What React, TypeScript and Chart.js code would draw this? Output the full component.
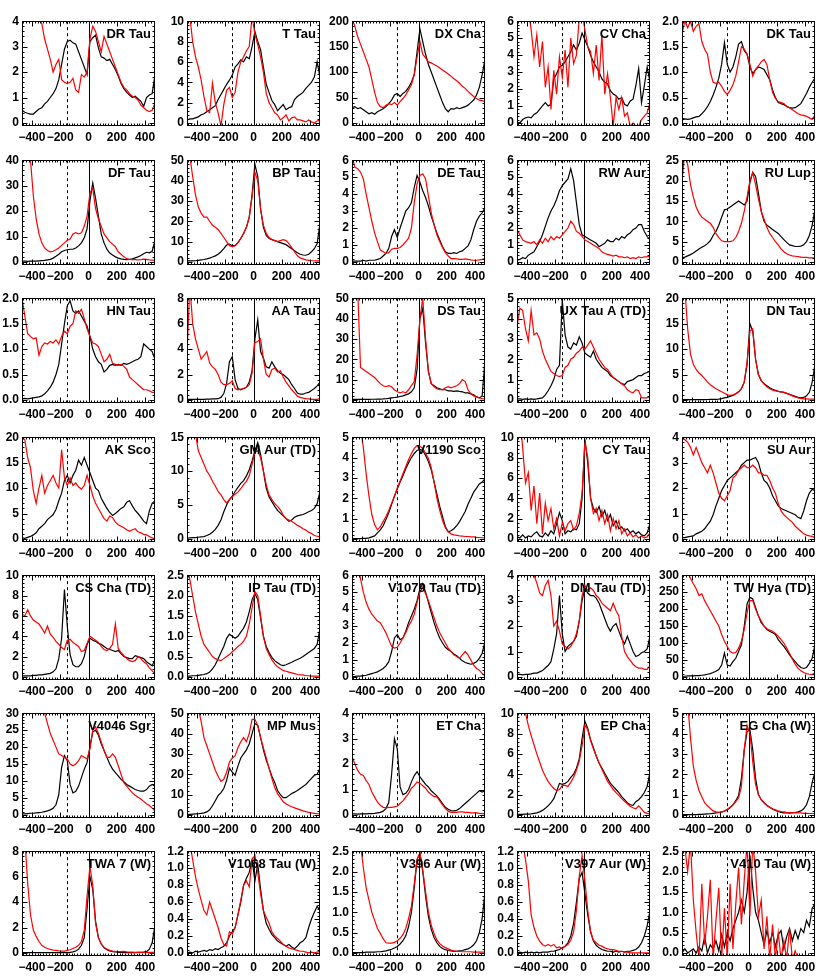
import React, { useEffect, useRef } from 'react';
import { Chart, registerables } from 'chart.js';

Chart.register(...registerables);

// ---------- shared axis data ----------
const velocity = [
  -470, -450, -430, -410, -390, -370, -350, -330,
  -310, -290, -270, -250, -230, -210, -190, -170,
  -150, -130, -110, -90, -70, -50, -30, -10,
  10, 30, 50, 70, 90, 110, 130, 150,
  170, 190, 210, 230, 250, 270, 290, 310,
  330, 350, 370, 390, 410, 430, 450, 470,
];
const xTickValues = [-400, -200, 0, 200, 400];
const xTickLabels = ['\u2212400', '\u2212200', '0', '200', '400'];
const xMin = -470;
const xMax = 470;
const dashedVelocity = -155;

// ---------- series values (black / red) ----------
const drTauBlack = [0.5,0.42,0.38,0.35,0.35,0.45,0.55,0.6, 0.75,0.85,1.0,1.15,1.35,1.7,2.3,2.9, 3.2,3.25,3.15,3.1,2.8,2.5,2.2,1.9, 3.2,3.35,3.45,2.95,2.6,2.55,2.45,2.5, 2.3,2.1,1.85,1.55,1.35,1.2,1.1,1.0, 1.05,0.95,0.85,0.65,1.0,1.1,1.15,1.9];
const drTauRed = [4.1,4.1,4.0,4.1,4.0,4.0,4.1,3.9, 3.3,2.9,2.5,2.0,2.3,2.5,1.7,1.6, 1.55,1.6,1.75,1.3,1.2,1.9,1.8,2.0, 3.3,3.8,3.6,3.2,2.8,3.4,3.1,2.8, 2.5,2.2,1.9,1.6,1.4,1.3,1.15,1.05, 1.0,0.9,0.7,0.6,0.5,0.45,0.5,0.8];
const tTauBlack = [0.3,0.4,0.4,0.5,0.6,0.8,0.9,1.1, 1.3,1.5,1.7,2.3,2.8,3.3,3.8,4.2, 4.7,5.5,5.8,6.2,6.0,6.5,6.3,7.5, 9.0,8.0,7.2,5.5,3.8,3.0,2.2,1.8, 1.2,1.5,1.8,1.3,1.5,1.6,2.3,2.6, 2.8,3.0,3.4,3.7,4.0,4.5,6.0,4.5];
const tTauRed = [11,10.5,8,6.5,5.5,4.2,2.6,1.2, 1.0,3.9,2.0,1.0,-0.3,1.8,3.2,3.5, 2.5,3.0,5.0,6.0,6.5,7.1,7.5,10.5, 8.7,7.7,6.5,5.0,2.9,2.0,1.5,1.0, 0.8,0.3,0.5,0.8,0.2,0.5,0.6,0.3, 0.3,0.2,0.1,0.3,0.1,0.0,0.2,0.3];
const dxChaBlack = [30,32,28,30,26,22,18,20, 17,22,25,28,32,38,45,55, 58,52,58,62,70,80,95,140, 185,160,135,115,100,85,70,55, 40,28,22,28,27,30,28,30, 32,35,40,45,55,70,95,125];
const dxChaRed = [205,190,170,155,140,125,110,85, 60,40,32,30,35,38,36,40, 35,42,48,55,65,75,95,130, 160,135,128,120,118,115,112,108, 104,100,96,92,87,83,78,72, 68,62,57,52,48,45,44,42];
const cvChaBlack = [0.05,0.0,0.2,0.3,0.35,0.3,0.5,0.6, 0.8,1.0,1.2,1.0,1.1,2.6,2.9,3.3, 3.4,3.6,3.9,4.2,4.6,4.3,4.7,5.3, 4.9,4.5,4.0,3.6,3.3,3.0,2.6,2.4, 2.3,1.9,1.7,1.6,1.4,1.5,1.1,1.0, 1.3,1.4,2.2,3.2,1.2,2.2,3.3,2.4];
const cvChaRed = [7,7,7,7,6.8,5.5,3.9,5.2, 3.3,4.8,2.1,3.3,0.8,3.1,1.7,3.9, 2.7,4.3,2.1,5.0,3.5,4.0,6.2,6.5, 5.5,4.5,4.2,2.9,4.6,2.5,5.2,1.7, 2.9,1.5,-0.2,1.5,0.8,1.5,0.4,0.6, -0.2,0.0,-0.2,-0.2,0.2,0.4,0.6,1.2];
const dkTauBlack = [0.06,0.08,0.07,0.08,0.1,0.12,0.13,0.18, 0.24,0.32,0.42,0.55,0.7,0.88,1.15,1.58, 1.15,1.0,1.1,1.3,1.55,1.6,1.42,1.35, 1.1,0.97,1.05,1.1,1.08,1.05,0.95,0.85, 0.65,0.5,0.4,0.38,0.36,0.33,0.3,0.29, 0.3,0.34,0.38,0.48,0.58,0.7,0.8,0.88];
const dkTauRed = [1.75,2.0,1.87,2.0,1.8,1.9,1.95,1.6, 1.45,1.35,1.0,0.8,0.78,0.8,0.72,0.62, 0.56,0.64,0.75,0.92,1.2,1.5,1.45,1.35, 1.15,0.92,1.05,1.12,1.2,1.25,1.15,0.85, 0.6,0.48,0.42,0.4,0.38,0.32,0.3,0.26, 0.22,0.18,0.16,0.15,0.13,0.1,0.07,0.16];

const dfTauBlack = [0.3,0.3,0.2,0.3,0.3,0.3,0.4,0.5, 0.6,0.8,1.0,1.5,2.2,3.0,4.0,4.5, 4.8,5.0,5.0,5.5,6.3,7.5,9.5,13, 24,31,25,18,11,7.5,5,3.5, 2.7,2,1.5,1.2,1.0,0.9,1.0,1.2, 1.6,2.0,2.5,3.2,3.8,3.6,4.2,8.5];
const dfTauRed = [60,55,48,40,26,17,11,7.5, 5.5,4.5,4,4.2,4.8,5.5,6.5,7.5, 8.5,9,11,11.5,11,11.5,14,18, 27,29,21,17,14,11,9.5,8, 7,6,4,3,2,1.3,1,0.9, 0.9,0.8,0.9,1.1,1.0,0.8,0.7,0.6];
const bpTauBlack = [0.5,0.5,0.5,0.6,0.8,1.0,1.2,1.5, 1.9,2.4,3.0,3.8,5.0,6.5,8.3,8.8, 8.0,8.0,9.5,11.5,14,17,22,33, 48,42,26,17,13,11.5,11,10.5, 10,9.5,9,8.5,7.5,6.5,5.5,4.5, 3.8,3.4,3.3,3.8,5.0,6.5,9,19];
const bpTauRed = [60,52,42,33,27,24,22,22, 20,18,17,16,14,12,10,8, 7.5,8,9.5,11.5,14,17,22,32, 44,40,26,18,14,12,11,10.5, 10,10.5,11,10.5,9,7,5,3, 2,1.5,1,0.8,0.6,0.6,0.5,0.5];
const deTauBlack = [0.05,0.05,0.05,0.05,0.1,0.05,0.1,0.1, 0.1,0.15,0.2,0.35,0.5,0.8,1.5,1.9, 1.45,2.0,2.5,3.0,3.2,3.5,4.4,5.1, 4.7,4.2,3.8,3.3,2.7,2.2,1.7,1.3, 0.9,0.6,0.5,0.5,0.55,0.5,0.6,0.65, 0.8,0.95,1.3,1.9,2.4,2.7,2.9,3.2];
const deTauRed = [6.2,5.6,5.5,5.3,4.9,4.0,3.2,2.4, 1.7,1.2,0.7,0.6,0.5,0.55,0.75,0.8, 0.8,0.85,1.0,1.2,1.4,2.0,3.5,4.6, 5.1,5.2,4.9,3.9,2.9,2.2,1.6,1.2, 0.85,0.55,0.35,0.2,0.2,0.18,0.15,0.15, 0.18,0.15,0.12,0.1,0.1,0.12,0.15,0.2];
const rwAurBlack = [0.1,0.15,0.25,0.2,0.4,0.5,0.6,0.9, 1.2,1.6,2.1,2.6,3.0,3.3,3.7,4.2, 4.5,4.7,4.9,5.5,4.8,3.5,2.2,1.6, 1.5,1.4,1.3,1.2,1.1,0.9,1.0,1.1, 1.3,1.2,1.2,1.4,1.3,1.5,1.4,1.6, 1.7,1.9,2.0,2.2,2.2,1.8,1.5,1.3];
const rwAurRed = [1.9,1.6,1.3,1.2,1.15,1.1,1.2,1.0, 1.3,1.1,1.4,1.2,1.5,1.3,1.5,1.4, 1.6,1.8,2.0,2.4,2.2,1.8,1.7,1.5, 1.3,1.2,1.1,1.0,0.9,0.8,0.6,0.5, 0.45,0.4,0.35,0.4,0.3,0.3,0.25,0.3, 0.2,0.25,0.2,0.3,0.25,0.3,0.3,0.35];
const ruLupBlack = [1.0,1.2,1.5,1.8,2.2,2.7,3.2,3.6, 4.0,4.5,5.2,6.5,7.5,9.0,11,12.8, 13,13.5,14,14.5,15,14.5,14,15, 19.5,22,21,17,12.5,10,9,8.5, 8,7.5,7,6.2,5.5,4.8,4.2,4.0, 3.8,3.8,3.9,4.2,5.0,6.5,9,13];
const ruLupRed = [20,27,24,19,16,13.5,12,11, 10.5,10,9.5,8.5,7,6,5.2,5, 5,5,5.2,6,7.5,9.5,12.5,16, 20,22,19,15.5,12.5,10.5,8.5,7, 6,5,4.2,3.2,2.5,2.0,1.7,1.5, 1.4,1.3,1.2,1.1,1.1,1.0,1.0,1.0];

const hnTauBlack = [0.02,0.03,0.02,0.03,0.04,0.05,0.06,0.08, 0.12,0.18,0.25,0.35,0.5,0.7,1.1,1.5, 1.85,1.95,1.75,1.7,1.75,1.65,1.55,1.45, 1.25,1.0,0.85,0.75,0.7,0.55,0.6,0.68, 0.7,0.68,0.7,0.68,0.72,0.7,0.72,0.75, 0.78,0.8,0.85,1.1,1.05,1.0,0.95,0.8];
const hnTauRed = [2.0,1.65,1.3,1.25,1.2,1.22,0.88,1.05, 1.12,1.1,1.15,1.12,1.18,1.1,1.25,1.35, 1.3,1.45,1.5,1.75,1.7,1.78,1.6,1.4, 1.25,1.12,1.1,1.05,0.9,0.75,0.8,0.9, 0.72,0.7,0.68,0.7,0.66,0.6,0.45,0.4, 0.35,0.3,0.25,0.2,0.2,0.18,0.15,0.15];
const aaTauBlack = [0.05,0.05,0.05,0.05,0.05,0.05,0.05,0.06, 0.07,0.08,0.09,0.1,0.2,0.5,1.3,3.0, 3.4,1.6,0.9,0.8,0.9,1.0,1.4,2.3, 4.8,6.3,3.8,3.3,2.6,2.5,3.0,2.6, 2.3,2.1,2.0,1.8,1.6,1.2,0.9,0.55, 0.45,0.45,0.55,0.6,0.75,0.9,1.1,1.4];
const aaTauRed = [3.6,9,6,4.8,4.0,3.2,3.5,3.8, 2.9,2.6,2.4,2.0,1.4,1.2,1.2,1.3, 1.5,0.9,0.8,0.85,0.9,1.0,1.2,2.1, 4.5,4.6,4.8,3.2,2.0,1.8,2.4,2.5, 2.2,2.3,1.8,1.4,1.1,0.8,0.55,0.3, 0.2,0.15,0.1,0.08,0.05,0.05,0.05,0.1];
const dsTauBlack = [0.3,0.3,0.3,0.3,0.3,0.3,0.3,0.35, 0.35,0.4,0.45,0.5,0.6,0.8,1.0,1.2, 1.4,1.7,2.0,2.5,3.0,4.0,6.0,15, 40,45,28,14,8,7,6,5.5, 5,5,4.5,4.5,4.2,4.5,4.2,4.0, 3.5,3.5,3.0,2.5,1.5,1.0,2.0,20];
const dsTauRed = [60,60,55,16,15,14,13,12, 11,9.5,8,7,6.5,7,6.5,5, 4,3.5,4,3.5,5,7,9,22, 40,50,30,14,8,6.5,5.5,5, 5,6,6.5,6,6.5,7,8,10, 9,5,3,2,1.5,1,0.6,0.5];
const uxTauBlack = [0.05,0.05,0.03,0.05,0.03,0.05,0.03,0.05, 0.08,0.1,0.25,0.45,0.7,1.0,1.5,1.7, 4.9,3.2,2.6,2.5,2.8,2.7,3.1,2.8, 2.3,2.2,2.1,2.4,2.0,1.8,1.6,1.5, 1.4,1.2,1.1,1.0,0.9,0.8,0.75,0.9, 0.95,1.0,1.1,1.2,1.2,1.3,1.35,1.4];
const uxTauRed = [3.6,4.5,4.4,3.5,2.9,4.4,3.2,3.3, 3.0,2.4,2.0,1.7,1.4,1.3,1.2,1.15, 1.2,1.6,1.7,2.0,2.1,2.3,2.4,2.6, 2.5,2.7,2.9,2.6,2.3,2.0,1.8,1.6, 1.5,1.3,1.1,1.0,0.9,0.8,0.7,0.5, 0.4,0.35,0.5,0.45,0.1,0.1,0.1,0.15];
const dnTauBlack = [0.05,0.05,0.05,0.05,0.05,0.06,0.06,0.07, 0.08,0.09,0.1,0.12,0.13,0.15,0.25,0.4, 0.5,0.7,0.9,1.2,1.6,2.2,3.5,7, 15,13.5,8,5,3.8,3.2,2.8,2.4, 2.1,1.9,1.7,1.6,1.5,1.3,1.1,0.9, 0.7,0.5,0.4,0.5,0.8,1.5,3.5,7];
const dnTauRed = [28,22,14,9,7,6,5.3,4.8, 4.2,3.5,3.0,2.6,2.2,1.9,1.6,1.3, 1.0,0.9,1.0,1.2,1.6,2.2,3.5,7.5, 13.5,14,8,5,3.8,3.1,2.6,2.2, 1.9,1.8,1.7,1.6,1.5,1.3,1.1,0.8, 0.6,0.4,0.3,0.2,0.2,0.15,0.15,0.15];

const akScoBlack = [0.2,0.1,0.3,0.5,0.8,1.2,2.0,2.5, 3.0,3.8,4.3,4.8,5.8,7.5,9,11.5, 12.5,11,12.5,13.5,15.5,14.5,16,14.5, 13,11.5,10,9.5,8,7,6,5.2, 4.6,5,5.5,6,6.3,7.2,7.5,6.5, 5.6,5.0,4.3,3.5,3.0,5.5,7.0,7.5];
const akScoRed = [20,19.5,16,14,9.5,7,10,12.5, 9,10.5,11.5,12.5,11,10,17.5,12, 10.5,12,10.5,11,10.2,9.8,10.5,12.5, 10.5,8.5,7,6,5,4,3.5,4.5, 4.2,3.3,2.8,2.5,2.2,1.8,1.5,1.8, 2.0,1.4,1.2,0.9,0.8,0.5,0.2,0.0];
const gmAurBlack = [0.1,0.15,0.2,0.2,0.25,0.3,0.35,0.5, 0.7,1.0,1.4,2.0,2.8,4.0,5.0,5.8, 6.3,7.0,7.6,8.2,8.6,9.3,10.2,11.5, 13.0,14.2,12.5,10,7.5,6.2,5.5,4.8, 4.2,3.8,3.4,3.0,2.6,2.8,3.2,3.4, 3.5,3.6,3.8,4.0,4.2,4.5,5.2,7.0];
const gmAurRed = [18,18,17,15.5,13,12,11,10, 9.4,8.5,7.8,7.0,6.5,5.8,5.3,5.8, 6.2,6.6,6.9,7.4,8.0,8.5,9.3,11, 12.8,13,12,10,8,6.5,5.8,5.2, 4.8,4.3,3.5,3.0,2.8,2.6,2.3,2.0, 1.8,1.5,1.3,1.0,0.8,0.5,0.4,0.3];
const v1190ScoBlack = [0.02,0.02,0.02,0.02,0.03,0.03,0.05,0.1, 0.15,0.3,0.45,0.65,0.95,1.3,1.7,2.1, 2.45,2.8,3.1,3.45,3.75,4.0,4.2,4.35, 4.4,4.35,4.1,3.8,3.4,2.8,2.2,1.6, 1.1,0.6,0.35,0.4,0.5,0.65,0.85,1.1, 1.35,1.7,2.0,2.3,2.5,2.7,2.8,2.95];
const v1190ScoRed = [8,7,6.5,5.5,4.5,3.2,2.1,1.2, 0.7,0.45,0.6,0.85,1.1,1.4,1.75,2.1, 2.5,2.85,3.2,3.55,3.9,4.2,4.45,4.6, 4.55,4.45,4.2,3.95,3.5,2.8,2.0,1.4, 0.9,0.55,0.35,0.25,0.2,0.18,0.15,0.14, 0.12,0.12,0.1,0.1,0.08,0.07,0.06,0.05];
const cyTauBlack = [0.2,0.1,0.4,0.1,0.3,0.2,0.5,0.7, 0.3,0.2,0.6,0.3,0.8,0.5,1.5,2.6, 1.8,0.5,0.8,0.7,1.0,0.9,1.5,4.0, 9.8,7.5,4.0,3.0,2.6,3.2,2.2,2.8, 1.8,2.4,1.3,1.8,1.0,1.2,0.8,1.0, 0.6,0.8,0.5,0.7,0.4,0.3,0.6,1.5];
const cyTauRed = [12,12,9,5.5,6.5,2.8,5.2,1.5, 4.5,0.5,3.5,1.8,3.0,1.0,2.0,0.3, 1.6,0.8,1.5,1.8,0.9,1.3,2.5,4.5, 9.5,8.0,4.0,2.5,3.0,1.8,2.8,1.5, 2.4,0.8,2.0,1.0,1.8,0.5,1.0,0.3, 0.6,0.2,0.4,0.1,0.3,0.1,0.2,0.6];
const suAurBlack = [0.05,0.05,0.08,0.1,0.12,0.2,0.25,0.3, 0.4,0.55,0.7,0.95,1.3,1.6,1.9,2.1, 2.3,2.4,2.5,2.6,2.7,2.9,3.0,3.1, 3.1,3.15,3.2,3.0,2.6,2.3,2.2,2.0, 1.7,1.5,1.3,1.2,1.15,1.1,1.05,1.0, 0.95,0.85,0.8,1.1,1.5,1.8,1.95,1.9];
const suAurRed = [4.0,3.9,3.8,3.6,3.3,3.6,3.3,3.0, 2.8,2.6,2.9,2.6,2.2,1.8,1.6,1.5, 1.7,1.9,2.4,2.5,2.7,2.8,2.9,2.8, 2.8,2.9,2.8,2.6,2.6,2.5,2.5,2.3, 2.0,1.8,1.4,1.1,0.95,0.85,0.75,0.65, 0.5,0.4,0.3,0.2,0.15,0.12,0.1,0.05];

const csChaBlack = [0.1,0.1,0.1,0.1,0.15,0.15,0.2,0.2, 0.25,0.3,0.35,0.5,0.8,1.8,3.8,8.6, 5,2.2,1.2,1.0,1.0,1.3,2.0,3.2, 3.8,3.6,3.5,3.3,3.2,3.0,2.8,2.7, 2.6,2.5,2.6,2.3,2.0,1.9,1.8,1.8, 2.1,2.0,1.9,1.8,1.5,1.3,1.1,1.7];
const csChaRed = [6.2,6.0,6.6,6.0,5.6,5.4,5.2,4.8, 4.3,5.0,4.2,3.9,3.5,3.2,2.9,2.7, 3.6,3.7,3.4,3.2,3.0,2.5,2.6,3.3, 4.0,3.8,3.6,3.4,3.0,2.7,2.6,2.8, 3.2,5.2,2.8,2.4,2.1,1.8,1.6,1.5, 1.6,2.0,1.8,1.5,1.3,0.9,0.6,0.3];
const ipTauBlack = [0.02,0.02,0.03,0.03,0.04,0.05,0.06,0.08, 0.12,0.2,0.3,0.45,0.6,0.75,0.95,1.05, 1.0,0.95,1.0,1.1,1.2,1.35,1.6,1.9, 2.05,1.9,1.45,1.0,0.75,0.6,0.48,0.4, 0.35,0.3,0.28,0.3,0.33,0.36,0.4,0.43, 0.46,0.5,0.55,0.6,0.65,0.7,0.8,1.2];
const ipTauRed = [2.8,2.4,2.0,1.6,1.3,1.0,0.8,0.7, 0.6,0.5,0.45,0.42,0.4,0.45,0.5,0.55, 0.62,0.68,0.75,0.8,0.88,1.0,1.3,1.7, 2.1,2.0,1.5,1.0,0.7,0.55,0.42,0.32, 0.25,0.2,0.16,0.14,0.12,0.1,0.08,0.06, 0.05,0.05,0.03,0.03,0.02,0.02,0.02,0.02];
const v1079TauBlack = [0.02,0.03,0.05,0.05,0.08,0.1,0.15,0.2, 0.25,0.3,0.4,0.5,0.65,0.9,1.5,2.3, 2.5,2.2,2.3,2.7,3.2,3.6,4.0,4.5, 5.2,5.5,5.0,4.4,3.8,3.2,2.7,2.3, 2.0,1.75,1.6,1.5,1.35,1.25,1.1,0.95, 0.85,0.8,0.75,0.8,0.9,1.1,1.4,2.1];
const v1079TauRed = [8,7.5,6.8,5.8,5.0,4.4,4.0,3.7, 3.5,3.3,3.2,2.9,2.6,2.2,1.8,1.7, 1.75,2.0,2.3,2.6,3.0,3.3,3.7,4.4, 5.0,5.3,4.9,4.5,4.0,3.5,3.0,2.6, 2.3,2.0,1.7,1.5,1.3,1.2,1.1,1.3, 1.5,1.3,1.0,0.7,0.5,0.4,0.2,0.05];
const dmTauBlack = [0.1,0.1,0.08,0.1,0.1,0.12,0.15,0.15, 0.2,0.25,0.35,0.45,0.6,1.1,1.7,3.2, 1.7,1.0,1.2,1.3,1.4,1.6,2.2,3.0, 3.5,3.3,3.2,3.2,3.1,2.9,2.6,2.3, 2.0,1.8,2.0,2.1,1.8,1.5,1.3,1.6, 1.3,1.0,0.8,0.85,0.95,1.0,1.1,1.6];
const dmTauRed = [4.5,4.5,4.4,4.3,4.2,4.1,4.0,3.7, 3.3,3.2,3.6,3.8,3.2,2.0,2.2,1.8, 1.3,1.2,1.1,1.2,1.4,1.7,2.2,3.2, 3.6,3.4,3.5,3.4,3.2,3.1,2.9,2.8, 2.7,2.6,2.9,2.6,2.4,1.6,1.0,0.8, 0.65,0.5,0.4,0.35,0.35,0.3,0.3,0.45];
const twHyaBlack = [2,2,3,3,3,4,4,5, 6,8,10,13,17,22,35,70, 35,32,45,55,75,95,150,215, 235,230,205,180,160,150,140,135, 130,125,110,100,90,78,65,55, 45,35,28,25,28,40,55,95];
const twHyaRed = [340,330,310,290,275,260,240,245, 225,210,195,180,165,150,125,105, 90,75,70,72,85,105,140,190, 225,225,200,180,165,150,142,138, 135,128,120,110,100,85,70,52, 38,25,18,13,10,8,7,12];

const v4046SgrBlack = [0.3,0.3,0.4,0.5,0.5,0.6,0.7,0.8, 1.0,1.2,1.5,2.0,3.0,6.0,14,17.5, 16,9,6.5,7,8.5,11,13.5,15.5, 20,24.5,25,23.5,21,19,17,15, 13.5,12.5,11.5,10.5,9.8,9.0,8.5,8.0, 7.5,7.2,7.0,7.0,7.5,8.5,9.0,8.5];
const v4046SgrRed = [40,38,36,35,34,33,32,31, 30,27,24,22,20,18,17.5,17, 16.5,15,14.5,15,16,17.5,17,16.5, 19.5,25,26,24,21.5,19,17,17, 18,17,14.5,12,9.5,8.5,7.5,6.5, 5.8,5.2,4.7,4,3.3,2.8,2.0,1.2];
const mpMusBlack = [0.3,0.3,0.4,0.5,0.6,0.8,1.0,1.5, 2.5,4.5,7,9.5,11,13,17,23, 21,19.5,24,28,30,32,35,40, 45,44,38,32,27,23,19,16, 12,10,8.5,8.5,9.5,10.5,11.2,12, 13,14,15,16.5,18,19.5,20,23];
const mpMusRed = [60,60,58,55,52,46,38,34, 30,26,22,19,16.5,17.5,21,26, 28,29,33,36,38,36,40,47, 47,44,38,33,28,23,18,13.5, 10.5,8.5,6.5,5.5,4.6,4.0,3.5,3.0, 2.5,2.0,1.6,1.3,1.0,0.8,0.6,0.5];
const etChaBlack = [0.04,0.04,0.03,0.04,0.04,0.04,0.05,0.05, 0.06,0.08,0.1,0.15,0.25,0.5,1.6,3.0, 2.6,1.1,0.8,0.85,1.0,1.3,1.55,1.7, 1.5,1.35,1.2,1.1,0.95,0.85,0.75,0.6, 0.45,0.3,0.22,0.17,0.16,0.18,0.25,0.35, 0.45,0.55,0.65,0.75,0.85,0.95,0.9,0.95];
const etChaRed = [2.3,2.0,1.75,1.6,1.55,1.35,1.2,0.9, 0.7,0.5,0.38,0.3,0.28,0.3,0.3,0.32, 0.35,0.45,0.55,0.7,0.85,1.05,1.15,1.3, 1.25,1.15,1.05,0.9,0.8,0.72,0.72,0.55, 0.4,0.25,0.15,0.1,0.1,0.1,0.12,0.12, 0.1,0.1,0.08,0.08,0.08,0.06,0.05,0.05];
const epChaBlack = [0.05,0.05,0.05,0.08,0.08,0.1,0.15,0.2, 0.3,0.45,0.65,0.9,1.2,1.6,2.3,3.1, 3.0,3.1,3.3,3.7,4.0,4.6,5.5,7.5, 9.2,8.5,7.4,6.6,5.8,5.1,4.6,4.1, 3.6,3.1,2.8,2.5,2.2,1.8,1.5,1.2, 1.0,0.95,1.3,1.5,1.8,2.2,2.8,4.2];
const epChaRed = [13,12,11,10,8.8,7.8,6.9,6.0, 5.2,4.4,3.8,3.3,2.9,2.6,2.4,2.5, 2.9,2.9,2.8,3.2,3.7,4.4,5.3,6.8, 8.8,8.4,7.3,6.5,5.8,5.1,4.5,3.9, 3.3,2.9,2.5,2.2,1.9,1.6,1.35,1.1, 0.85,0.7,0.6,0.9,0.6,0.25,0.15,0.1];
const egChaBlack = [0.02,0.02,0.02,0.02,0.02,0.02,0.03,0.03, 0.04,0.05,0.06,0.08,0.1,0.12,0.15,0.18, 0.25,0.35,0.5,0.7,0.95,1.8,3.2,4.1, 4.2,3.2,1.8,1.0,0.75,0.6,0.48,0.38, 0.28,0.22,0.17,0.13,0.1,0.1,0.09,0.1, 0.12,0.15,0.2,0.3,0.5,0.9,1.6,2.1];
const egChaRed = [9,7,5.5,3.8,2.4,1.7,1.2,0.9, 0.6,0.45,0.32,0.2,0.15,0.13,0.14,0.2, 0.28,0.38,0.48,0.65,0.85,1.4,3.2,4.4, 4.0,2.6,1.5,1.0,0.75,0.6,0.45,0.38, 0.3,0.25,0.2,0.17,0.15,0.13,0.12,0.12, 0.1,0.1,0.1,0.08,0.08,0.07,0.07,0.07];

const twa7Black = [0.02,0.02,0.02,0.02,0.02,0.02,0.02,0.02, 0.02,0.02,0.02,0.02,0.02,0.03,0.03,0.03, 0.03,0.05,0.08,0.15,0.3,0.6,1.2,3.5, 6.0,5.0,2.5,1.2,0.7,0.4,0.25,0.15, 0.1,0.08,0.05,0.04,0.03,0.03,0.03,0.03, 0.03,0.04,0.05,0.06,0.1,0.3,0.8,2.2];
const twa7Red = [10,9,5.5,3.0,1.8,1.3,0.9,0.6, 0.45,0.35,0.28,0.22,0.2,0.17,0.15,0.15, 0.2,0.25,0.35,0.45,0.6,0.9,1.8,4.5, 6.8,5.3,2.3,1.2,0.7,0.45,0.3,0.2, 0.15,0.12,0.1,0.1,0.12,0.08,0.07,0.06, 0.05,0.05,0.05,0.05,0.05,0.04,0.04,0.04];
const v1068TauBlack = [0.0,0.01,0.0,0.02,0.01,0.02,0.03,0.02, 0.04,0.03,0.05,0.04,0.06,0.08,0.12,0.2, 0.25,0.3,0.45,0.6,0.8,0.88,0.95,1.1, 0.85,1.05,0.75,0.5,0.35,0.28,0.22,0.18, 0.14,0.12,0.1,0.08,0.1,0.07,0.05,0.08, 0.12,0.14,0.18,0.3,0.4,0.48,0.55,0.5];
const v1068TauRed = [1.5,1.3,1.1,0.9,0.75,0.62,0.5,0.45, 0.6,0.5,0.4,0.3,0.18,0.1,0.08,0.25, 0.22,0.3,0.45,0.62,0.8,0.85,0.78,1.1, 1.15,0.95,0.7,0.5,0.42,0.35,0.25,0.2, 0.17,0.14,0.1,0.08,0.06,0.05,0.04,0.03, 0.02,0.02,0.01,0.0,0.01,0.0,0.01,0.02];
const v396AurBlack = [0.01,0.01,0.01,0.01,0.01,0.02,0.02,0.02, 0.02,0.03,0.03,0.04,0.05,0.07,0.09,0.12, 0.16,0.22,0.3,0.42,0.65,1.0,1.6,2.3, 2.45,2.0,1.4,0.9,0.58,0.38,0.25,0.16, 0.11,0.08,0.06,0.05,0.04,0.04,0.05,0.06, 0.08,0.1,0.14,0.2,0.3,0.5,0.85,1.5];
const v396AurRed = [3.5,3.2,3.0,2.7,2.1,1.6,1.3,1.0, 0.8,0.6,0.48,0.35,0.25,0.24,0.24,0.26, 0.3,0.36,0.45,0.6,0.85,1.15,1.7,2.3, 2.45,2.05,1.5,1.0,0.68,0.48,0.32,0.23, 0.17,0.13,0.1,0.07,0.05,0.04,0.04,0.03, 0.03,0.03,0.03,0.02,0.02,0.02,0.02,0.02];
const v397AurBlack = [0.0,0.01,0.0,0.01,0.0,0.01,0.0,0.01, 0.0,0.01,0.01,0.01,0.02,0.02,0.03,0.04, 0.06,0.08,0.12,0.2,0.35,0.6,0.88,0.95, 0.7,0.45,0.25,0.14,0.09,0.06,0.04,0.03, 0.02,0.02,0.01,0.02,0.01,0.02,0.01,0.02, 0.02,0.03,0.04,0.07,0.12,0.2,0.32,0.5];
const v397AurRed = [1.5,1.4,1.3,1.1,0.85,0.45,0.3,0.2, 0.14,0.1,0.08,0.1,0.08,0.1,0.06,0.07, 0.05,0.08,0.1,0.15,0.25,0.5,0.9,1.15, 0.85,0.5,0.25,0.15,0.12,0.09,0.08,0.06, 0.05,0.04,0.04,0.03,0.02,0.02,0.01,0.01, 0.0,0.0,0.0,0.0,0.0,0.0,0.0,0.0];
const v410TauBlack = [0.0,0.1,0.0,0.05,0.1,0.0,0.15,0.05, 0.4,0.0,0.2,0.1,0.3,0.05,0.45,0.15, 0.5,0.3,0.6,0.8,1.0,1.3,1.0,1.5, 2.4,1.6,1.0,0.8,0.5,0.2,0.55,0.25, 0.5,0.15,0.45,0.55,0.1,0.4,0.6,0.3, 0.55,0.35,0.6,0.5,0.8,0.65,1.1,1.2];
const v410TauRed = [2.7,2.6,2.0,2.7,1.3,0.5,-0.15,1.7, 0.2,0.9,1.8,-0.15,0.8,1.6,-0.15,1.1, -0.15,1.7,0.1,1.2,2.1,0.7,1.8,2.7, 0.9,2.7,2.0,0.9,1.3,0.1,0.9,-0.15, 0.7,-0.15,0.5,-0.15,0.3,-0.15,0.6,-0.15, 0.05,-0.15,-0.15,-0.15,-0.15,-0.15,-0.15,-0.15];

// ---------- panel tables ----------
const panelNames = [
  'DR Tau', 'T Tau', 'DX Cha', 'CV Cha', 'DK Tau',
  'DF Tau', 'BP Tau', 'DE Tau', 'RW Aur', 'RU Lup',
  'HN Tau', 'AA Tau', 'DS Tau', 'UX Tau A (TD)', 'DN Tau',
  'AK Sco', 'GM Aur (TD)', 'V1190 Sco', 'CY Tau', 'SU Aur',
  'CS Cha (TD)', 'IP Tau (TD)', 'V1079 Tau (TD)', 'DM Tau (TD)', 'TW Hya (TD)',
  'V4046 Sgr', 'MP Mus', 'ET Cha', 'EP Cha', 'EG Cha (W)',
  'TWA 7 (W)', 'V1068 Tau (W)', 'V396 Aur (W)', 'V397 Aur (W)', 'V410 Tau (W)',
];
const panelYMax = [4, 10, 200, 6, 2, 40, 50, 6, 6, 25, 2, 8, 50, 5, 20, 20, 15, 5, 10, 4, 10, 2.5, 6, 4, 300, 30, 50, 4, 10, 5, 8, 1.2, 2.5, 1.2, 2.5];
const panelYStep = [1, 2, 50, 1, 0.5, 10, 10, 1, 1, 5, 0.5, 2, 10, 1, 5, 5, 5, 1, 2, 1, 2, 0.5, 1, 1, 50, 5, 10, 1, 2, 1, 2, 0.2, 0.5, 0.2, 0.5];
const panelBlack = [
  drTauBlack, tTauBlack, dxChaBlack, cvChaBlack, dkTauBlack,
  dfTauBlack, bpTauBlack, deTauBlack, rwAurBlack, ruLupBlack,
  hnTauBlack, aaTauBlack, dsTauBlack, uxTauBlack, dnTauBlack,
  akScoBlack, gmAurBlack, v1190ScoBlack, cyTauBlack, suAurBlack,
  csChaBlack, ipTauBlack, v1079TauBlack, dmTauBlack, twHyaBlack,
  v4046SgrBlack, mpMusBlack, etChaBlack, epChaBlack, egChaBlack,
  twa7Black, v1068TauBlack, v396AurBlack, v397AurBlack, v410TauBlack,
];
const panelRed = [
  drTauRed, tTauRed, dxChaRed, cvChaRed, dkTauRed,
  dfTauRed, bpTauRed, deTauRed, rwAurRed, ruLupRed,
  hnTauRed, aaTauRed, dsTauRed, uxTauRed, dnTauRed,
  akScoRed, gmAurRed, v1190ScoRed, cyTauRed, suAurRed,
  csChaRed, ipTauRed, v1079TauRed, dmTauRed, twHyaRed,
  v4046SgrRed, mpMusRed, etChaRed, epChaRed, egChaRed,
  twa7Red, v1068TauRed, v396AurRed, v397AurRed, v410TauRed,
];

// ---------- layout ----------
const COL_LEFT = [22, 187, 352, 517, 682];
const ROW_TOP = [19, 158, 296, 435, 573, 711, 849];
const PLOT_W = 133;
const PLOT_H = 107;
const AXIS_W = 28;
const AXIS_H = 20;
const PAD_TOP = 8;
const PAD_RIGHT = 14;
const CANVAS_W = AXIS_W + PLOT_W + PAD_RIGHT;
const CANVAS_H = PAD_TOP + PLOT_H + AXIS_H;
const FONT = "'Liberation Sans', Arial, Helvetica, sans-serif";

const idlFramePlugin = {
  id: 'idlFrame',
  beforeDatasetsDraw(chart: any) {
    const { ctx, chartArea: a } = chart;
    const xs = chart.scales.x;
    ctx.save();
    ctx.strokeStyle = '#000';
    ctx.lineWidth = 1;
    const x0 = Math.round(xs.getPixelForValue(0)) + 0.5;
    ctx.beginPath();
    ctx.moveTo(x0, a.top);
    ctx.lineTo(x0, a.bottom);
    ctx.stroke();
    const xd = Math.round(xs.getPixelForValue(dashedVelocity)) + 0.5;
    ctx.setLineDash([3, 3]);
    ctx.beginPath();
    ctx.moveTo(xd, a.top);
    ctx.lineTo(xd, a.bottom);
    ctx.stroke();
    ctx.restore();
  },
  afterDatasetsDraw(chart: any, _args: any, opts: any) {
    const { ctx, chartArea: a } = chart;
    const xs = chart.scales.x;
    const ys = chart.scales.y;
    const L = Math.round(a.left) + 0.5;
    const R = Math.round(a.right) - 0.5;
    const T = Math.round(a.top) + 0.5;
    const B = Math.round(a.bottom) - 0.5;
    ctx.save();
    ctx.strokeStyle = '#000';
    ctx.lineWidth = 1;
    ctx.strokeRect(L, T, R - L, B - T);
    ctx.beginPath();
    for (let v = -460; v <= 460; v += 20) {
      const px = Math.round(xs.getPixelForValue(v)) + 0.5;
      const len = v % 200 === 0 ? 5 : 2;
      ctx.moveTo(px, B); ctx.lineTo(px, B - len);
      ctx.moveTo(px, T); ctx.lineTo(px, T + len);
    }
    const minor = opts.yStep / 5;
    const nMinor = Math.round(opts.yMax / minor);
    for (let k = 1; k < nMinor; k++) {
      const py = Math.round(ys.getPixelForValue(k * minor)) + 0.5;
      const len = k % 5 === 0 ? 5 : 2;
      ctx.moveTo(L, py); ctx.lineTo(L + len, py);
      ctx.moveTo(R, py); ctx.lineTo(R - len, py);
    }
    const pz = Math.round(ys.getPixelForValue(0)) + 0.5;
    ctx.moveTo(L, pz); ctx.lineTo(L + 5, pz);
    ctx.moveTo(R, pz); ctx.lineTo(R - 5, pz);
    ctx.stroke();
    ctx.fillStyle = '#000';
    ctx.font = `bold 13px ${FONT}`;
    ctx.textAlign = 'right';
    ctx.textBaseline = 'alphabetic';
    ctx.fillText(opts.title, a.right - 4, a.top + 17);
    ctx.restore();
  },
};

function Panel({ idx }: { idx: number }) {
  const ref = useRef<HTMLCanvasElement>(null);
  useEffect(() => {
    const yMax = panelYMax[idx];
    const yStep = panelYStep[idx];
    const nTicks = Math.round(yMax / yStep);
    const yTickValues: number[] = [];
    for (let k = 0; k <= nTicks; k++) yTickValues.push(Math.round(k * yStep * 1000) / 1000);
    const decimals = yStep < 1 ? 1 : 0;
    const tickFont = { family: FONT, size: 12, weight: 'bold' as const };
    const chart = new Chart(ref.current as HTMLCanvasElement, {
      type: 'line',
      data: {
        datasets: [
          {
            label: 'red',
            data: velocity.map((v, i) => ({ x: v, y: panelRed[idx][i] })),
            borderColor: '#ff0000',
            borderWidth: 1.2,
            pointRadius: 0,
            tension: 0,
            clip: 0,
            order: 0,
          },
          {
            label: 'black',
            data: velocity.map((v, i) => ({ x: v, y: panelBlack[idx][i] })),
            borderColor: '#000000',
            borderWidth: 1.2,
            pointRadius: 0,
            tension: 0,
            clip: 0,
            order: 1,
          },
        ],
      },
      options: {
        animation: false,
        responsive: false,
        devicePixelRatio: 1,
        events: [],
        layout: { padding: { left: 0, top: PAD_TOP, right: PAD_RIGHT, bottom: 0 } },
        plugins: {
          legend: { display: false },
          tooltip: { enabled: false },
          title: { display: false },
          idlFrame: { title: panelNames[idx], yStep, yMax },
        } as any,
        scales: {
          x: {
            type: 'linear',
            min: xMin,
            max: xMax,
            afterBuildTicks: (s: any) => { s.ticks = xTickValues.map((v) => ({ value: v })); },
            afterFit: (s: any) => { s.height = AXIS_H; },
            grid: { display: false, drawTicks: false },
            border: { display: false },
            ticks: {
              autoSkip: false,
              maxRotation: 0,
              minRotation: 0,
              padding: 4,
              color: '#000',
              font: tickFont,
              callback: (value: any) => {
                const i = xTickValues.indexOf(Number(value));
                return i >= 0 ? xTickLabels[i] : '';
              },
            },
          },
          y: {
            type: 'linear',
            min: -0.03 * yMax,
            max: yMax,
            afterBuildTicks: (s: any) => { s.ticks = yTickValues.map((v) => ({ value: v })); },
            afterFit: (s: any) => { s.width = AXIS_W; },
            grid: { display: false, drawTicks: false },
            border: { display: false },
            ticks: {
              autoSkip: false,
              padding: 3,
              color: '#000',
              font: tickFont,
              callback: (value: any) => Number(value).toFixed(decimals),
            },
          },
        },
      } as any,
      plugins: [idlFramePlugin as any],
    });
    return () => chart.destroy();
  }, [idx]);
  const col = idx % 5;
  const row = Math.floor(idx / 5);
  return (
    <canvas
      ref={ref}
      width={CANVAS_W}
      height={CANVAS_H}
      style={{
        position: 'absolute',
        left: COL_LEFT[col] - AXIS_W,
        top: ROW_TOP[row] - PAD_TOP,
        width: CANVAS_W,
        height: CANVAS_H,
      }}
    />
  );
}

export default function App() {
  return (
    <div style={{ position: 'absolute', left: 0, top: 0, width: 830, height: 977, background: '#fff', overflow: 'hidden' }}>
      {panelNames.map((_, i) => (
        <Panel key={i} idx={i} />
      ))}
    </div>
  );
}
